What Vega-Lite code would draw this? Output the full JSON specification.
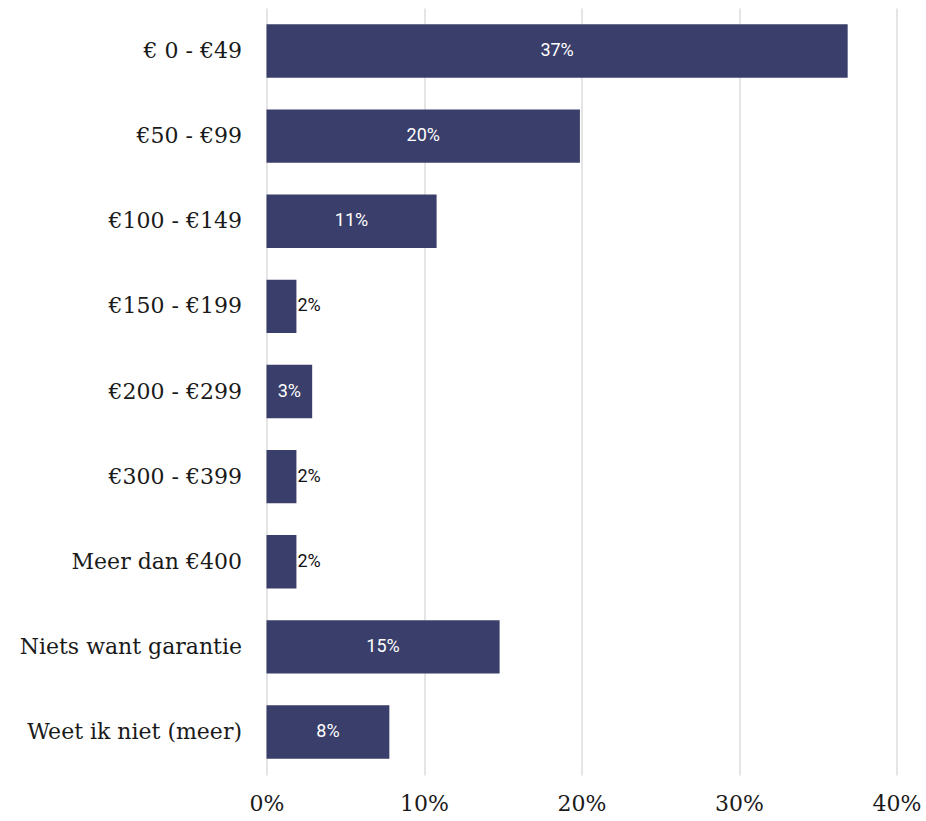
{
  "$schema": "https://vega.github.io/schema/vega-lite/v6.json",
  "width": 630,
  "height": 767,
  "autosize": {"type": "none"},
  "padding": {"left": 266.5, "top": 8, "right": 29.5, "bottom": 46},
  "background": "white",
  "config": {"view": {"stroke": null}},
  "data": {
    "values": [
      {"cat": "€ 0 - €49", "v": 36.9},
      {"cat": "€50 - €99", "v": 19.9},
      {"cat": "€100 - €149", "v": 10.8},
      {"cat": "€150 - €199", "v": 1.9},
      {"cat": "€200 - €299", "v": 2.9},
      {"cat": "€300 - €399", "v": 1.9},
      {"cat": "Meer dan €400", "v": 1.9},
      {"cat": "Niets want garantie", "v": 14.8},
      {"cat": "Weet ik niet (meer)", "v": 7.8}
    ]
  },
  "transform": [{"calculate": "format(datum.v, '.0f') + '%'", "as": "lab"}],
  "encoding": {
    "y": {
      "field": "cat", "type": "nominal", "sort": null,
      "scale": {"paddingInner": 0.373, "paddingOuter": 0.191},
      "axis": {"title": null, "domain": false, "ticks": false, "labelPadding": 25, "labelLimit": 400,
        "labelFont": "DejaVu Serif", "labelFontSize": 22, "labelColor": "#1a1a1a"}
    }
  },
  "layer": [
    {
      "mark": {"type": "bar", "color": "#3a3e6a"},
      "encoding": {
        "x": {
          "field": "v", "type": "quantitative",
          "scale": {"domain": [0, 40], "nice": false},
          "axis": {"title": null, "values": [0, 10, 20, 30, 40], "labelExpr": "datum.value + '%'",
            "domain": false, "ticks": false, "grid": true, "gridColor": "#dcdcdc", "gridWidth": 1.5,
            "labelFlush": false, "labelBound": false, "labelOverlap": false,
            "labelPadding": 18, "labelFont": "DejaVu Serif", "labelFontSize": 22, "labelColor": "#1a1a1a"}
        }
      }
    },
    {
      "transform": [{"filter": "datum.v >= 2.5"}, {"calculate": "datum.v / 2", "as": "mid"}],
      "mark": {"type": "text", "color": "white", "font": "Roboto", "fontSize": 18, "align": "center", "baseline": "middle"},
      "encoding": {
        "x": {"field": "mid", "type": "quantitative"},
        "text": {"field": "lab", "type": "nominal"}
      }
    },
    {
      "transform": [{"filter": "datum.v < 2.5"}],
      "mark": {"type": "text", "color": "#111", "font": "Roboto", "fontSize": 18, "align": "left", "baseline": "middle", "dx": 1},
      "encoding": {
        "x": {"field": "v", "type": "quantitative"},
        "text": {"field": "lab", "type": "nominal"}
      }
    }
  ]
}
